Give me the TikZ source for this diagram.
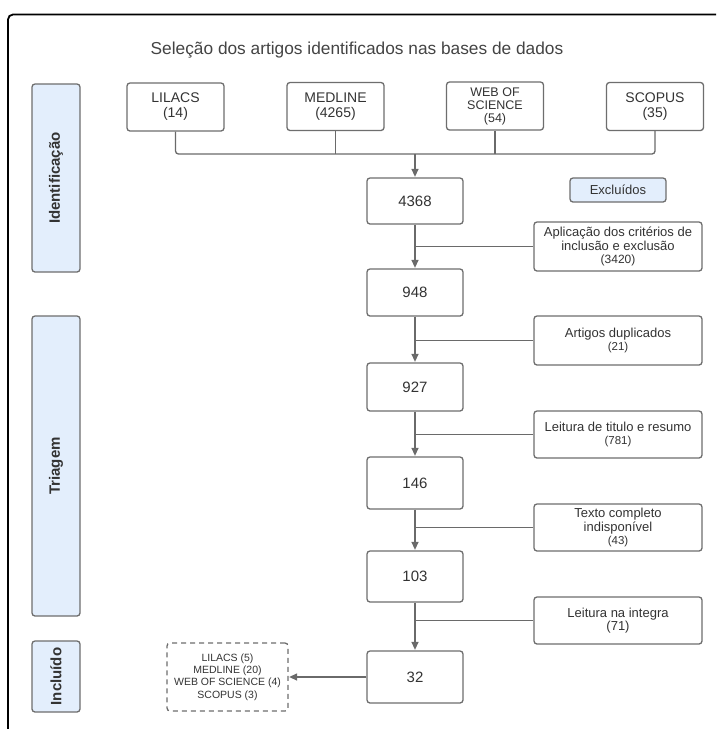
\documentclass[tikz,border=0pt]{standalone}
\usepackage{fontspec}
\setmainfont{Liberation Sans}
\usetikzlibrary{arrows.meta}
\definecolor{boxgray}{HTML}{6E6E6E}
\definecolor{linegray}{HTML}{6A6A6A}
\definecolor{txt}{HTML}{333333}
\definecolor{titlecol}{HTML}{444444}
\definecolor{phasefill}{HTML}{E3EEFC}
\newcommand{\fsz}[2]{\fontsize{#1}{#2}\selectfont}
\begin{document}
\begin{tikzpicture}[x=1pt,y=-1pt,
  box/.style={draw=boxgray, line width=1.3pt, rounded corners=3pt, fill=white, text=txt, align=center, inner sep=0pt},
  srcbox/.style={box, minimum width=97pt, minimum height=48pt, font=\fsz{14}{15}},
  numbox/.style={box, minimum width=96pt, font=\fsz{15}{17}},
  excbox/.style={box, minimum width=168pt, font=\fsz{13}{13.3}},
  phasebox/.style={box, fill=phasefill, rotate=90, minimum height=48pt, font=\bfseries\fsz{15}{17}},
  conn/.style={draw=linegray, line width=1.3pt},
  arr/.style={conn, -{Triangle[length=8pt,width=7pt]}, shorten >=0.5pt}
]
\useasboundingbox (0,0) rectangle (716,729);
\clip (0,0) rectangle (716,729);
\fill[white] (0,0) rectangle (716,729);
% outer frame
\draw[line width=1.8pt, rounded corners=5pt] (8,760) -- (8,14.5) -- (760,14.5);
% title
\node[text=titlecol, font=\fsz{17.3}{19}] (title) at (357,50) {Seleção dos artigos identificados nas bases de dados};
% phases
\node[phasebox, minimum width=188pt] (ph1) at (56,178) {Identificação};
\node[phasebox, minimum width=300pt] (ph2) at (56,466) {Triagem};
\node[phasebox, minimum width=71pt] (ph3) at (56,676.5) {Incluído};
% sources
\node[srcbox] (lil) at (175.5,107) {LILACS\\(14)};
\node[srcbox] (med) at (335.5,106.5) {MEDLINE\\(4265)};
\node[srcbox, font=\fsz{12.5}{13}] (wos) at (495,106) {WEB OF\\SCIENCE\\(54)};
\node[srcbox] (sco) at (655,106.5) {SCOPUS\\(35)};
\coordinate (j) at (415,154);
\draw[conn, rounded corners=3pt] (lil.south) |- (sco.south |- j) -- (sco.south);
\draw[conn] (med.south) -- (med.south |- j);
\draw[conn] (wos.south) -- (wos.south |- j);
% main column
\node[numbox, minimum height=46pt] (n1) at (415,201) {4368};
\node[numbox, minimum height=47pt] (n2) at (415,292.5) {948};
\node[numbox, minimum height=48pt] (n3) at (415,387) {927};
\node[numbox, minimum height=52pt] (n4) at (415,483) {146};
\node[numbox, minimum height=51pt] (n5) at (415,576.5) {103};
\node[numbox, minimum height=52pt] (n6) at (415,677) {32};
\draw[arr] (j) -- (n1.north);
\draw[arr] (n1.south) -- (n2.north);
\draw[arr] (n2.south) -- (n3.north);
\draw[arr] (n3.south) -- (n4.north);
\draw[arr] (n4.south) -- (n5.north);
\draw[arr] (n5.south) -- (n6.north);
% excluded
\node[box, fill=phasefill, minimum width=96pt, minimum height=24pt, font=\fsz{13}{14}] (exh) at (618,190) {Excluídos};
\node[excbox, minimum height=49pt] (e1) at (618,246.5) {Aplicação dos critérios de\\inclusão e exclusão\\{\fsz{12}{13}(3420)}};
\node[excbox, minimum height=49pt] (e2) at (618,340.5) {Artigos duplicados\\{\fsz{11.5}{13}(21)}};
\node[excbox, minimum height=47pt] (e3) at (618,434.5) {Leitura de titulo e resumo\\{\fsz{11.5}{13}(781)}};
\node[excbox, minimum height=47pt] (e4) at (618,527.5) {Texto completo\\indisponível\\{\fsz{11.5}{13}(43)}};
\node[excbox, minimum height=47pt] (e5) at (618,620.5) {Leitura na integra\\(71)};
\draw[conn] (e1.west) -- (e1.west -| n1.south);
\draw[conn] (e2.west) -- (e2.west -| n1.south);
\draw[conn] (e3.west) -- (e3.west -| n1.south);
\draw[conn] (e4.west) -- (e4.west -| n1.south);
\draw[conn] (e5.west) -- (e5.west -| n1.south);
% included list
\node[box, dashed, dash pattern=on 5pt off 4pt, minimum width=121pt, minimum height=68pt, font=\fsz{10.5}{12.3}] (inc) at (227.5,677) {LILACS (5)\\MEDLINE (20)\\WEB OF SCIENCE (4)\\SCOPUS (3)};
\draw[arr] (n6.west) -- (inc.east);
\end{tikzpicture}
\end{document}
